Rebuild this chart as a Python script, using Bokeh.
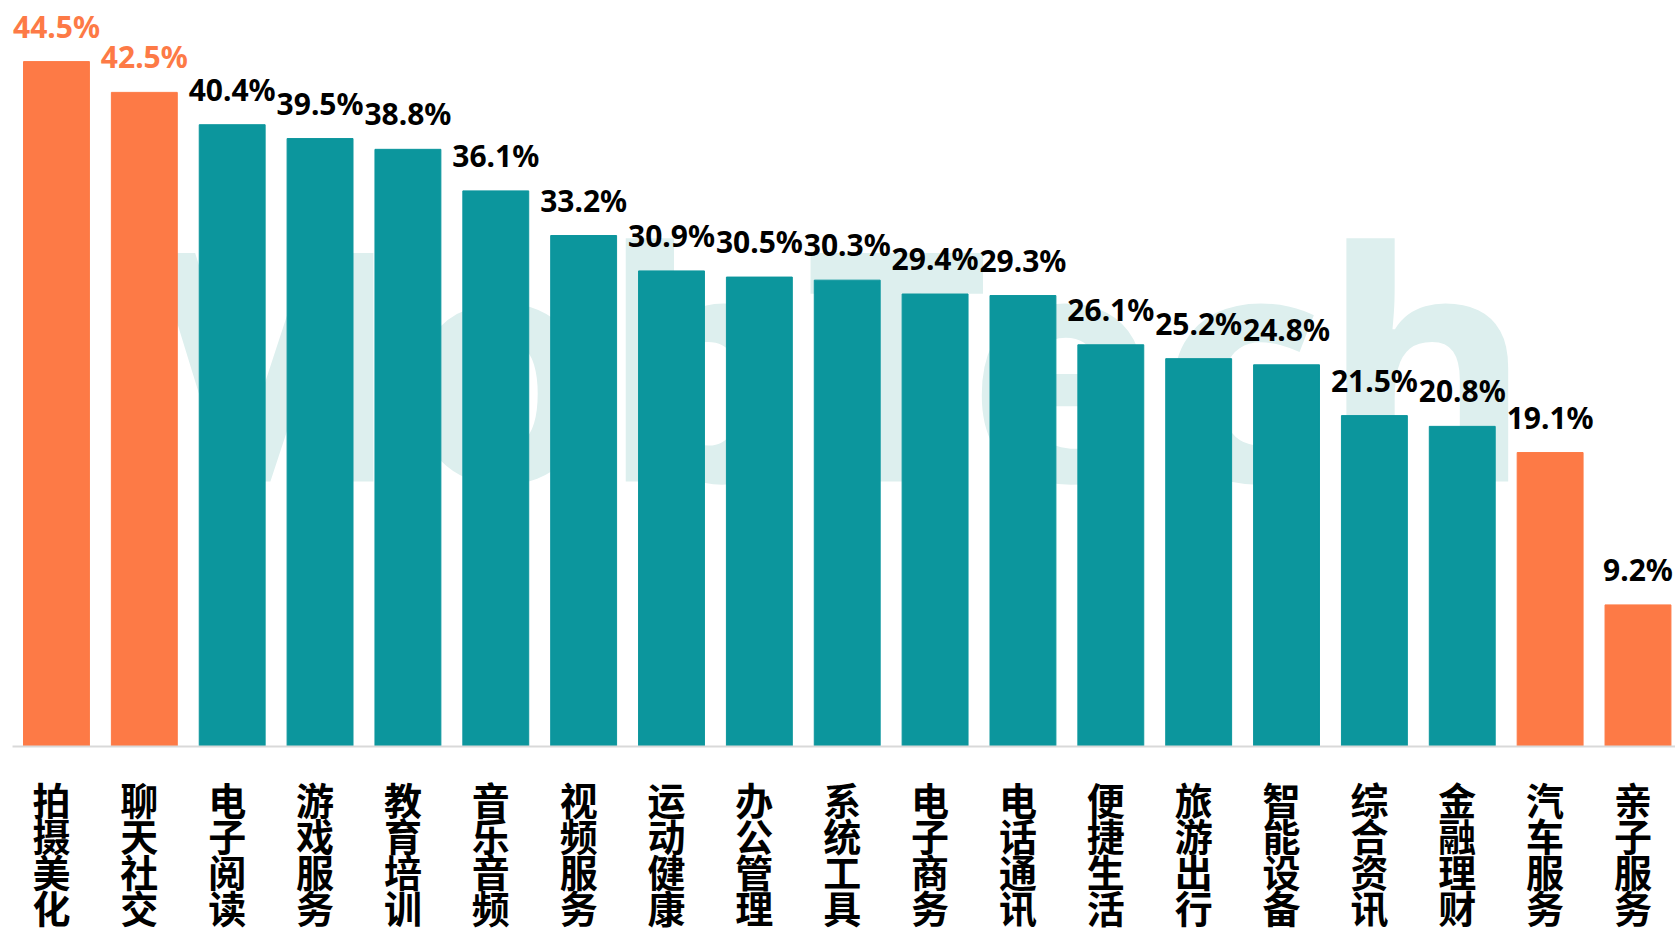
from bokeh.plotting import figure
from bokeh.models import ColumnDataSource, Range1d
from bokeh.core.properties import value
from bokeh.embed import file_html
from bokeh.resources import INLINE

categories = ["拍摄美化", "聊天社交", "电子阅读", "游戏服务", "教育培训", "音乐音频",
              "视频服务", "运动健康", "办公管理", "系统工具", "电子商务", "电话通讯",
              "便捷生活", "旅游出行", "智能设备", "综合资讯", "金融理财", "汽车服务", "亲子服务"]
values = [44.5, 42.5, 40.4, 39.5, 38.8, 36.1, 33.2, 30.9, 30.5, 30.3, 29.4, 29.3,
          26.1, 25.2, 24.8, 21.5, 20.8, 19.1, 9.2]
bar_highlight = [True, True, False, False, False, False, False, False, False, False,
                 False, False, False, False, False, False, False, True, True]
label_highlight = [True, True, False, False, False, False, False, False, False, False,
                   False, False, False, False, False, False, False, False, False]

ORANGE = "#FD7A46"
TEAL = "#0C969D"

W, H = 1675, 931
y_lo, y_hi = -12.02, 48.47
px_per_unit = H / (y_hi - y_lo)
x_lo, x_hi = -0.637, 18.427
px_per_x = W / (x_hi - x_lo)

idx = list(range(len(categories)))
bar_colors = [ORANGE if h else TEAL for h in bar_highlight]
label_colors = [ORANGE if h else "black" for h in label_highlight]

src = ColumnDataSource(dict(
    x=idx,
    top=values,
    fill=bar_colors,
    lcolor=label_colors,
    label=[f"{v:.1f}%" for v in values],
    ly=[v + 15 / px_per_unit for v in values],
))

cx, cy, ch = [], [], []
for i, c in enumerate(categories):
    for j, k in enumerate(c):
        cx.append(i - 5 / px_per_x)
        cy.append(-(52 + 36 * j) / px_per_unit)
        ch.append(k)
csrc = ColumnDataSource(dict(x=cx, y=cy, t=ch))

p = figure(width=W, height=H, output_backend="svg", toolbar_location=None,
           x_range=Range1d(x_lo, x_hi), y_range=Range1d(y_lo, y_hi))
p.min_border = 0
p.xaxis.visible = False
p.yaxis.visible = False
p.xgrid.visible = False
p.ygrid.visible = False
p.outline_line_color = None

# faint watermark, drawn first so it sits behind the bars
p.text(x=[(100 - 56) / px_per_x], y=[(746 - 575) / px_per_unit], text=["MobTech"],
       text_font=value("Noto Sans"), text_font_style="bold",
       text_font_size="320px", text_color="#DDEFEE", text_baseline="bottom",
       text_align="left")

p.vbar(x="x", top="top", bottom=0, width=0.75, fill_color="fill", line_color="fill", source=src)
p.segment(x0=[-0.5], y0=[0], x1=[x_hi], y1=[0], line_color="#D9D9D9", line_width=2)

p.text(x="x", y="ly", text="label", source=src, text_align="center",
       text_baseline="bottom", text_color="lcolor",
       text_font=value("Noto Sans"), text_font_style="bold", text_font_size="30px")

p.text(x="x", y="y", text="t", source=csrc, text_align="center",
       text_baseline="middle", text_color="black",
       text_font=value("Noto Sans CJK SC"), text_font_style="bold", text_font_size="38px")

open("out.html", "w").write(file_html(p, INLINE))
